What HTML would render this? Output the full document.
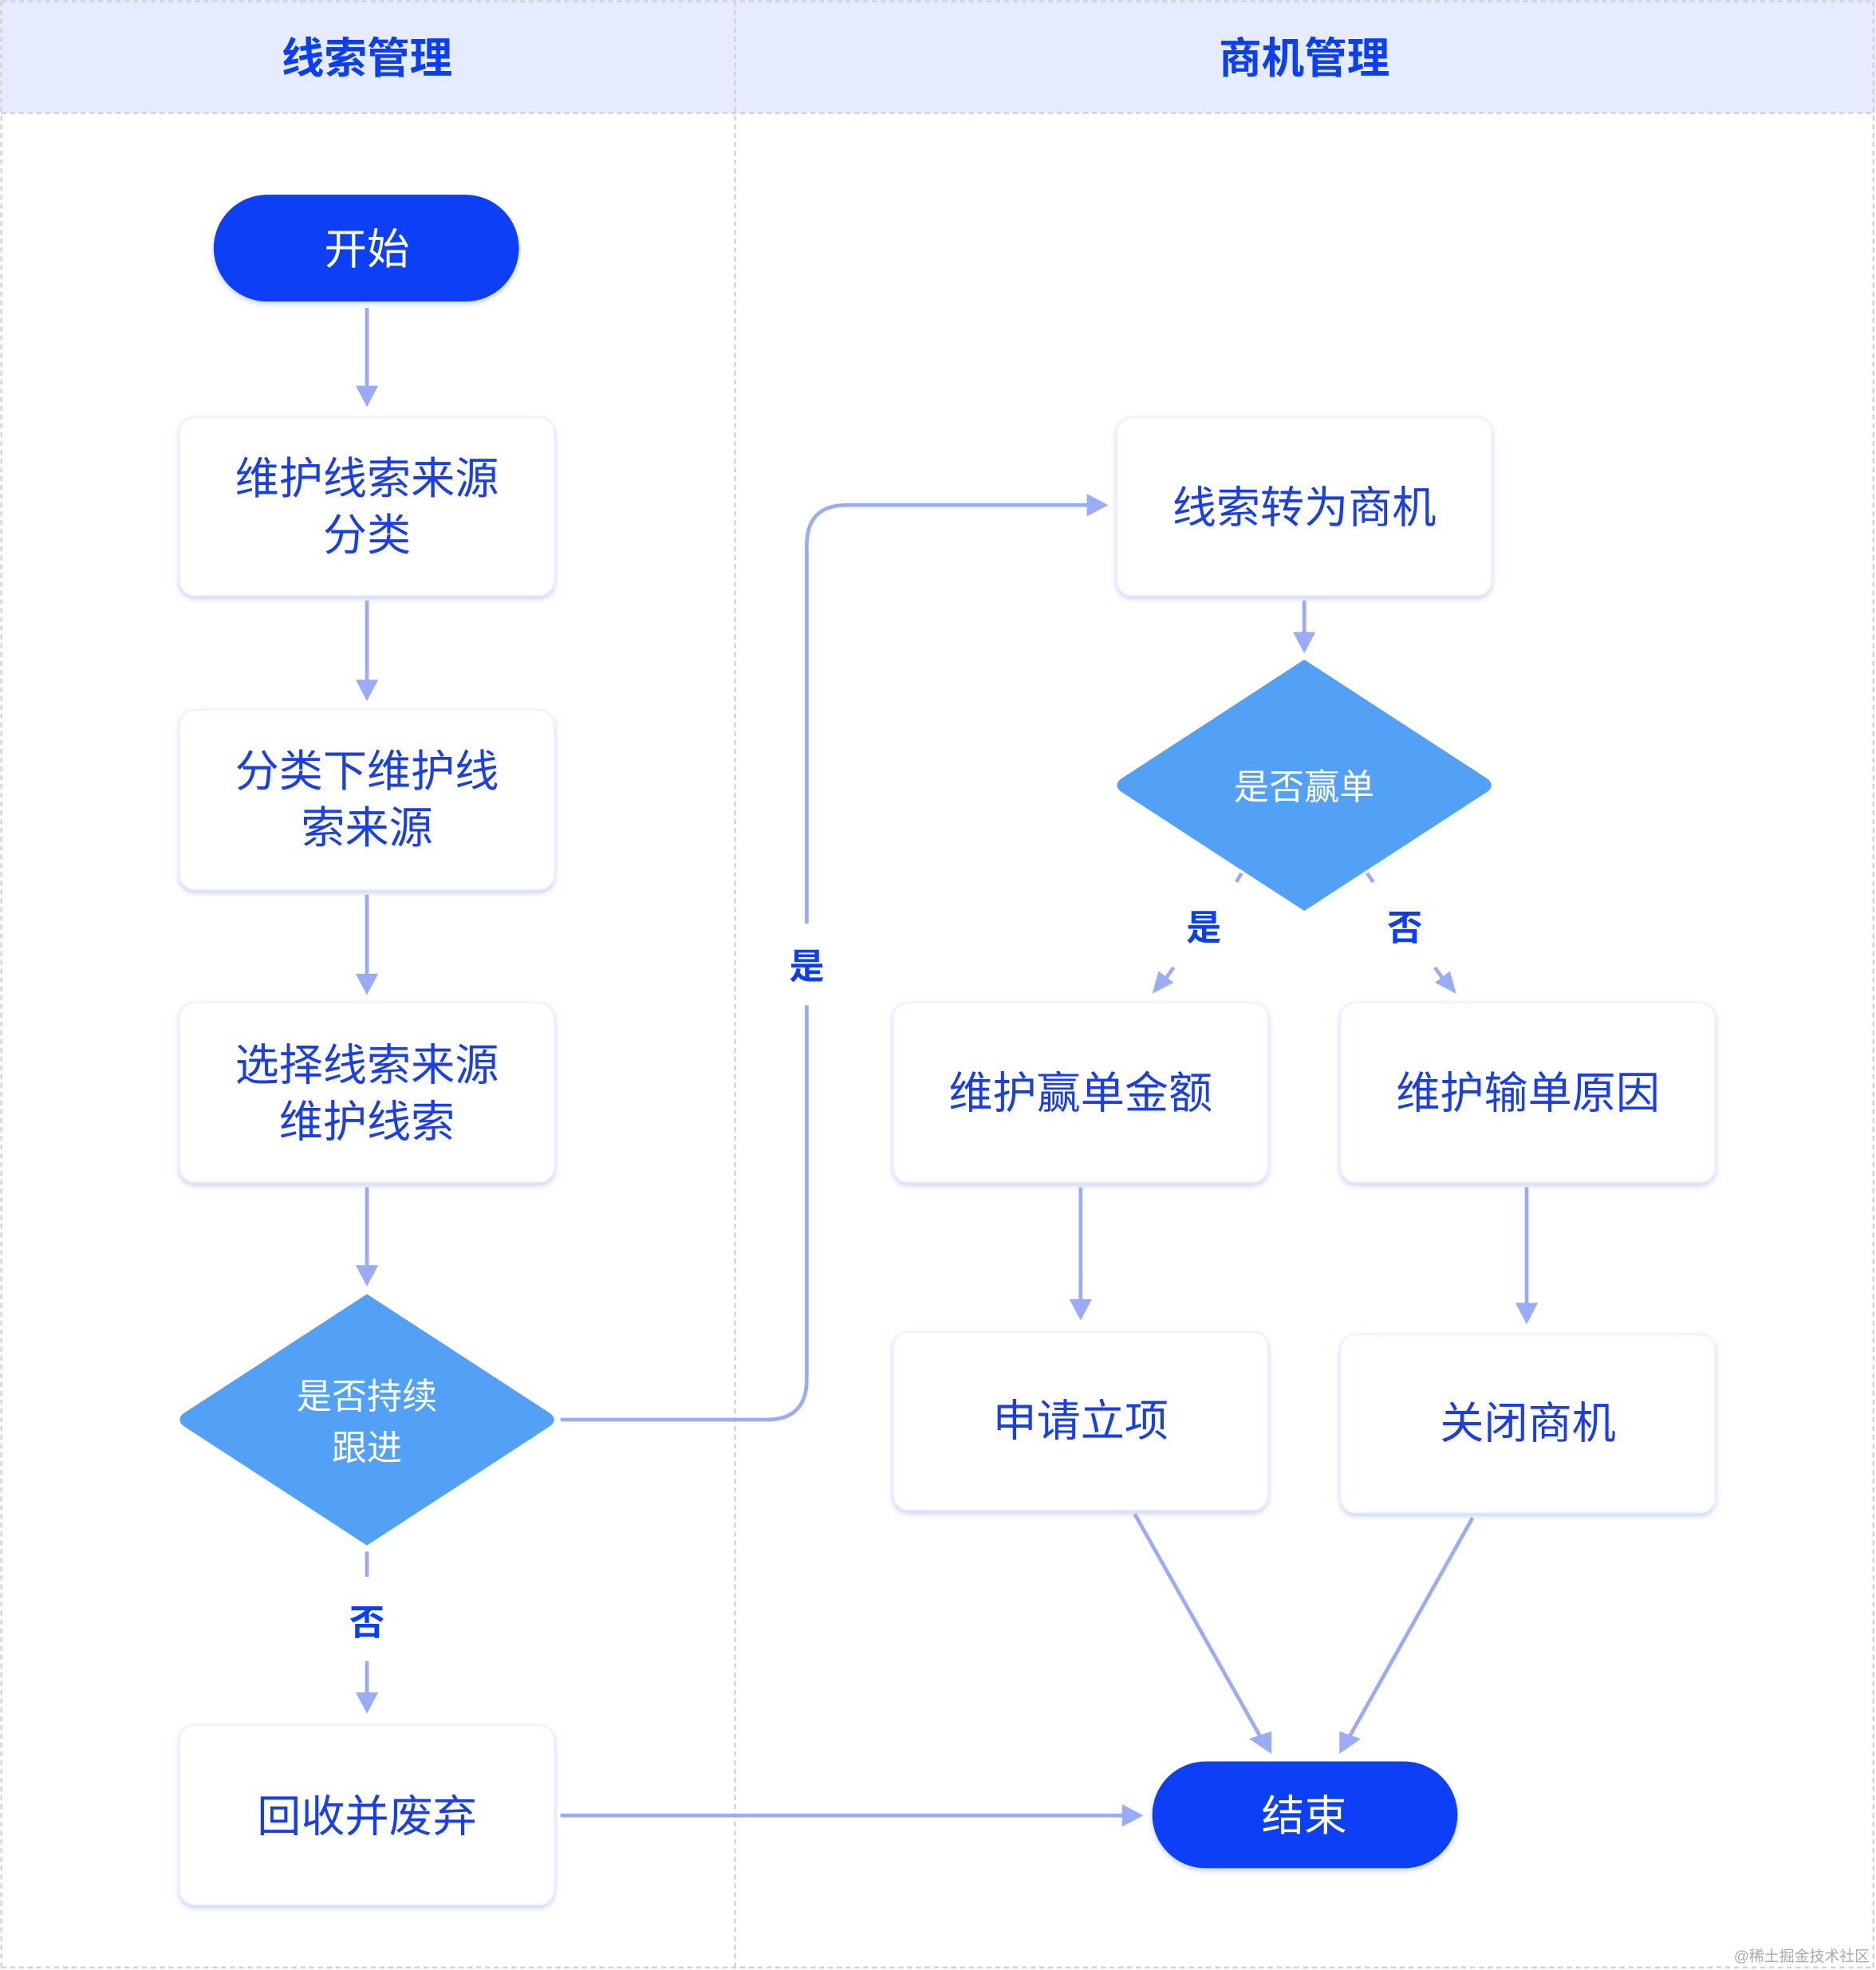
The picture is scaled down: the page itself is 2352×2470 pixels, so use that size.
<!DOCTYPE html>
<html><head><meta charset="utf-8">
<style>
html,body{margin:0;padding:0;background:#fff;}
svg{display:block;}
text{font-family:"Liberation Sans","Noto Sans CJK SC",sans-serif;}
</style></head>
<body>
<svg width="2352" height="2470" viewBox="0 0 1493 1568" xmlns="http://www.w3.org/2000/svg">
<defs>
<filter id="sh" x="-10%" y="-10%" width="120%" height="130%">
<feDropShadow dx="0" dy="2" stdDeviation="2" flood-color="#9fb3f5" flood-opacity="0.6"/>
</filter>
<marker id="ar" viewBox="0 0 10 10" refX="9" refY="5" markerWidth="6" markerHeight="6" orient="auto" markerUnits="userSpaceOnUse">
</marker>
</defs>
<rect x="0" y="0" width="1493" height="1568" fill="#fff"/>
<rect x="0" y="0" width="1493" height="90" fill="#e6ecfd"/>
<g stroke="#cfd2da" stroke-width="1.5" stroke-dasharray="4,3" fill="none">
<line x1="1" y1="1" x2="1492" y2="1"/>
<line x1="1" y1="90" x2="1492" y2="90"/>
<line x1="1" y1="1" x2="1" y2="1566"/>
<line x1="1491" y1="1" x2="1491" y2="1566"/>
<line x1="1" y1="1566" x2="1492" y2="1566"/>
<line x1="585" y1="1" x2="585" y2="1566"/>
</g>
<g font-size="34" font-weight="bold" fill="#0b3ef7" text-anchor="middle">
<text x="292" y="58">线索管理</text>
<text x="1038" y="58">商机管理</text>
</g>

<!-- connectors -->
<g stroke="#9aacf8" stroke-width="3" fill="none">
<line x1="292" y1="245" x2="292" y2="310"/>
<line x1="292" y1="478" x2="292" y2="544"/>
<line x1="292" y1="712" x2="292" y2="778"/>
<line x1="292" y1="945" x2="292" y2="1010"/>
<line x1="292" y1="1235" x2="292" y2="1255"/>
<line x1="292" y1="1322" x2="292" y2="1350"/>
<line x1="446" y1="1445" x2="896" y2="1445"/>
<path d="M446 1130 H610 Q642 1130 642 1098 V800"/>
<path d="M642 735 V434 Q642 402 674 402 H868"/>
<line x1="1038" y1="478" x2="1038" y2="506"/>
<line x1="860" y1="945" x2="860" y2="1037"/>
<line x1="1215" y1="945" x2="1215" y2="1040"/>
<line x1="903" y1="1205" x2="1004" y2="1384"/>
<line x1="1172" y1="1208" x2="1073" y2="1384"/>
<line x1="988" y1="695" x2="984" y2="702"/>
<line x1="1088" y1="695" x2="1093" y2="702"/>
<line x1="934" y1="770" x2="927" y2="780"/>
<line x1="1142" y1="770" x2="1149" y2="780"/>
</g>
<g fill="#9aacf8">
<polygon points="283,307 301,307 292,324"/>
<polygon points="283,541 301,541 292,558"/>
<polygon points="283,775 301,775 292,792"/>
<polygon points="283,1007 301,1007 292,1024"/>
<polygon points="283,1347 301,1347 292,1364"/>
<polygon points="893,1436 893,1454 910,1445"/>
<polygon points="865,393 865,411 882,402"/>
<polygon points="1029,503 1047,503 1038,520"/>
<polygon points="851,1034 869,1034 860,1051"/>
<polygon points="1206,1037 1224,1037 1215,1054"/>
<polygon points="994,1384 1012,1378 1012,1396"/>
<polygon points="1083,1384 1066,1378 1066,1396"/>
<polygon points="917,791 934,782 922,773"/>
<polygon points="1159,791 1142,782 1154,773"/>
</g>

<!-- labels on connectors -->
<g font-size="28" font-weight="bold" fill="#0b3ef7" text-anchor="middle">
<text x="642" y="779">是</text>
<text x="292" y="1301">否</text>
<text x="958" y="748">是</text>
<text x="1118" y="748">否</text>
</g>

<!-- pills -->
<rect x="170" y="155" width="243" height="85" rx="42.5" fill="#0a3ff6" filter="url(#sh)"/>
<rect x="917" y="1402" width="243" height="85" rx="42.5" fill="#0a3ff6" filter="url(#sh)"/>
<g font-size="34" fill="#fff" text-anchor="middle">
<text x="292" y="210">开始</text>
<text x="1038" y="1457">结束</text>
</g>

<!-- boxes -->
<g fill="#fff" stroke="#eef3ff" stroke-width="1.5" filter="url(#sh)">
<rect x="143" y="332" width="298" height="142" rx="12"/>
<rect x="143" y="565" width="298" height="143" rx="12"/>
<rect x="143" y="798" width="298" height="143" rx="12"/>
<rect x="143" y="1373" width="298" height="143" rx="12"/>
<rect x="889" y="332" width="298" height="142" rx="12"/>
<rect x="711" y="798" width="298" height="143" rx="12"/>
<rect x="1067" y="798" width="298" height="143" rx="12"/>
<rect x="711" y="1060" width="298" height="142" rx="12"/>
<rect x="1067" y="1062" width="298" height="142" rx="12"/>
</g>
<g font-size="35" fill="#1a3fe6" text-anchor="middle">
<text x="292" y="393">维护线索来源</text>
<text x="292" y="438">分类</text>
<text x="292" y="626">分类下维护线</text>
<text x="292" y="671">索来源</text>
<text x="292" y="860">选择线索来源</text>
<text x="292" y="905">维护线索</text>
<text x="292" y="1458">回收并废弃</text>
<text x="1038" y="416">线索转为商机</text>
<text x="860" y="882">维护赢单金额</text>
<text x="1216" y="882">维护输单原因</text>
<text x="860" y="1143">申请立项</text>
<text x="1216" y="1145">关闭商机</text>
</g>

<!-- diamonds -->
<path d="M292 1030 L438 1125 Q444 1130 438 1135 L292 1230 L146 1135 Q140 1130 146 1125 Z" fill="#52a1f6"/>
<path d="M1038 525 L1184 620 Q1190 625 1184 630 L1038 725 L892 630 Q886 625 892 620 Z" fill="#52a1f6"/>
<g font-size="28" fill="#fff" text-anchor="middle">
<text x="292" y="1121">是否持续</text>
<text x="292" y="1162">跟进</text>
<text x="1038" y="636">是否赢单</text>
</g>
<text x="1488" y="1561" font-size="12" fill="#aaa" text-anchor="end" font-family="Liberation Serif, Noto Serif CJK SC, serif">@稀土掘金技术社区</text>
</svg>
</body></html>
